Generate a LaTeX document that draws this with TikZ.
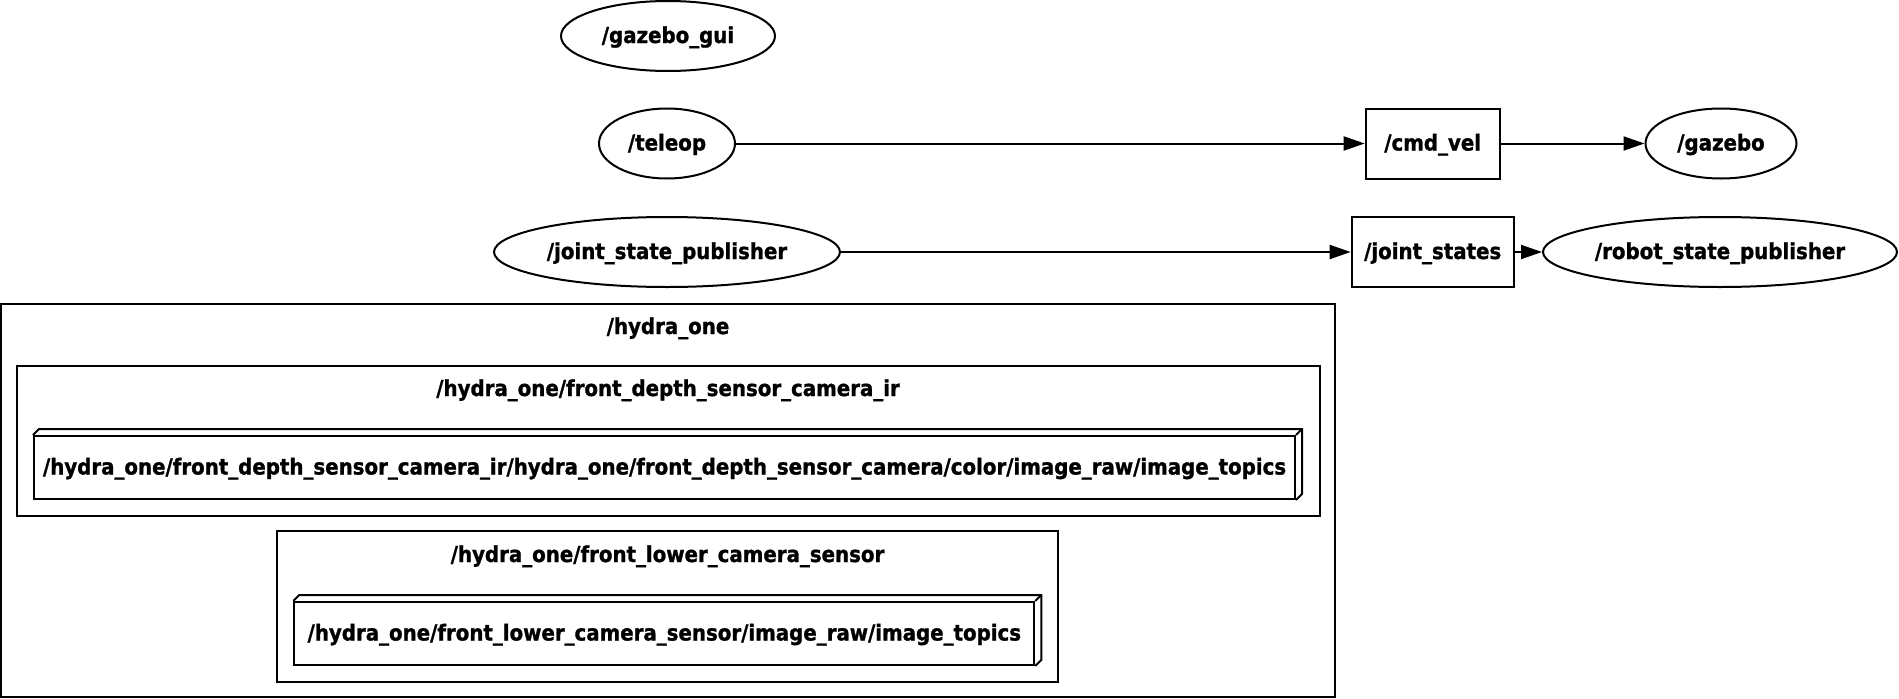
\documentclass[tikz,border=0pt]{standalone}
\usepackage{fontspec}
\setmainfont{DejaVu Sans Condensed}[BoldFeatures={FakeBold=1.2}]
\usetikzlibrary{shapes.geometric,arrows.meta}
\begin{document}
\begin{tikzpicture}[x=1pt,y=-1pt,
  every node/.style={font=\fontsize{22}{26}\selectfont\bfseries, inner sep=0pt, line width=2pt, text height=16pt, text depth=2pt},
  ell/.style={draw, ellipse, minimum height=70pt},
  tbox/.style={draw, rectangle, minimum height=70pt},
  cluster/.style={draw, rectangle},
  topicbox/.style={draw, rectangle, minimum height=63pt},
  edge/.style={line width=2pt, -{Triangle[length=21pt,width=14pt]}},
  line width=2pt]
\useasboundingbox (0,0) rectangle (1899,699);
% top nodes
\node[ell, minimum width=214pt] (gazebogui) at (668,36) {/gazebo\_gui};
\node[ell, minimum width=136pt] (teleop) at (667,143.5) {/teleop};
\node[ell, minimum width=346pt] (jsp) at (667,252) {/joint\_state\_publisher};
\node[tbox, minimum width=134pt] (cmdvel) at (1432.7,143.5) {/cmd\_vel};
\node[ell, minimum width=151pt] (gazebo) at (1721,143.5) {/gazebo};
\node[tbox, minimum width=162pt] (jstates) at (1432.7,252) {/joint\_states};
\node[ell, minimum width=354pt] (rsp) at (1720,252) {/robot\_state\_publisher};
\draw[edge] (teleop) -- (cmdvel);
\draw[edge] (cmdvel) -- (gazebo);
\draw[edge] (jsp) -- (jstates);
\draw[edge] (jstates) -- (rsp);
% clusters
\node[cluster, minimum width=1334pt, minimum height=393pt, text height=0pt, text depth=0pt] (hydra) at (668,500.5) {};
\node (hydralbl) at (668,327) {/hydra\_one};
\node[cluster, minimum width=1303pt, minimum height=150pt, text height=0pt, text depth=0pt] (depthcl) at (668,441) {};
\node (depthlbl) at (668,389) {/hydra\_one/front\_depth\_sensor\_camera\_ir};
\node[cluster, minimum width=781pt, minimum height=151pt, text height=0pt, text depth=0pt] (lowercl) at (667.5,606.5) {};
\node (lowerlbl) at (667.5,555) {/hydra\_one/front\_lower\_camera\_sensor};
% topic boxes (box3d)
\node[topicbox, minimum width=1261pt] (depthtopic) at (664.5,467.5) {/hydra\_one/front\_depth\_sensor\_camera\_ir/hydra\_one/front\_depth\_sensor\_camera/color/image\_raw/image\_topics};
\draw (depthtopic.north west) -- ++(6,-6) -| ([shift={(6,-6)}]depthtopic.south east) -- (depthtopic.south east);
\draw (depthtopic.north east) -- ++(6,-6);
\node[topicbox, minimum width=740pt] (lowertopic) at (664.3,633.5) {/hydra\_one/front\_lower\_camera\_sensor/image\_raw/image\_topics};
\draw (lowertopic.north west) -- ++(6,-6) -| ([shift={(6,-6)}]lowertopic.south east) -- (lowertopic.south east);
\draw (lowertopic.north east) -- ++(6,-6);
\end{tikzpicture}
\end{document}
